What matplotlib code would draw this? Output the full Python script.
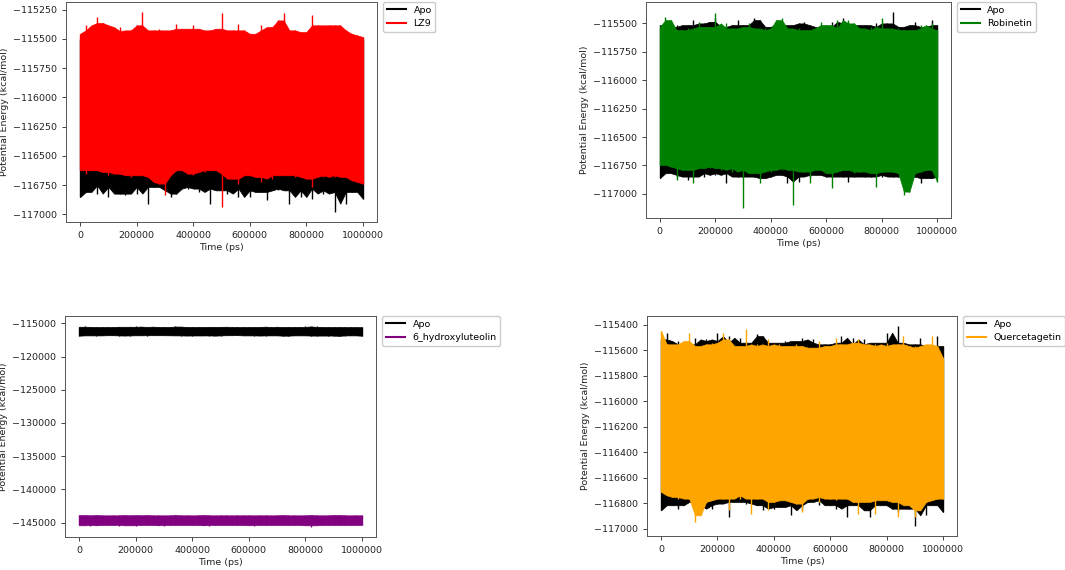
import numpy as np
import matplotlib
matplotlib.use("Agg")
import matplotlib.pyplot as plt
from matplotlib.ticker import MultipleLocator

# time axis of the traces (ps), one sample every 20000 ps
time_ps = np.arange(0, 1000001, 20000)

# ---- panel 1: Apo vs LZ9 (upper / lower envelope of each trace, kcal/mol) ----
apo_hi_lz9 = [-115500, -115530, -115510, -115540, -115520, -115510, -115530, -115500, -115470, -115520,
              -115490, -115530, -115510, -115540, -115520, -115530, -115500, -115520, -115510, -115540,
              -115520, -115500, -115530, -115510, -115520, -115540, -115510, -115500, -115530, -115520,
              -115510, -115500, -115530, -115520, -115540, -115510, -115520, -115530, -115500, -115520,
              -115510, -115530, -115520, -115500, -115540, -115510, -115490, -115480, -115520, -115490, -115500]
apo_lo_lz9 = [-116852, -116809, -116752, -116823, -116752, -116852, -116766, -116823, -116837, -116737,
              -116823, -116766, -116909, -116766, -116752, -116795, -116852, -116823, -116766, -116780,
              -116766, -116809, -116780, -116909, -116766, -116795, -116823, -116752, -116852, -116780,
              -116852, -116795, -116809, -116880, -116780, -116795, -116766, -116909, -116795, -116852,
              -116780, -116866, -116766, -116823, -116795, -116980, -116809, -116909, -116809, -116795, -116866]
lz9_hi = [-115456, -115384, -115427, -115313, -115364, -115384, -115433, -115399, -115442, -115427,
          -115384, -115270, -115470, -115427, -115413, -115442, -115427, -115370, -115413, -115422,
          -115384, -115413, -115442, -115427, -115413, -115279, -115442, -115427, -115370, -115427,
          -115456, -115456, -115384, -115427, -115399, -115342, -115279, -115427, -115427, -115442,
          -115442, -115299, -115384, -115413, -115384, -115384, -115384, -115427, -115456, -115470, -115484]
lz9_lo = [-116623, -116652, -116623, -116609, -116638, -116666, -116638, -116652, -116666, -116680,
          -116652, -116666, -116680, -116723, -116737, -116837, -116666, -116623, -116609, -116652,
          -116666, -116623, -116638, -116580, -116623, -116937, -116652, -116695, -116737, -116666,
          -116652, -116680, -116723, -116652, -116695, -116666, -116652, -116666, -116680, -116652,
          -116695, -116766, -116666, -116680, -116652, -116680, -116666, -116680, -116709, -116723, -116737]

# ---- panel 2: Apo vs Robinetin ----
apo_hi_rob = [-115515, -115530, -115544, -115515, -115530, -115515, -115471, -115515, -115500, -115486,
              -115456, -115544, -115530, -115515, -115471, -115515, -115530, -115456, -115471, -115559,
              -115530, -115515, -115515, -115559, -115515, -115500, -115486, -115515, -115559, -115530,
              -115544, -115486, -115530, -115456, -115500, -115530, -115515, -115515, -115544, -115500,
              -115530, -115500, -115398, -115530, -115530, -115515, -115486, -115544, -115530, -115471, -115515]
apo_lo_rob = [-116862, -116818, -116804, -116848, -116833, -116877, -116848, -116818, -116848, -116818,
              -116833, -116818, -116906, -116818, -116848, -116848, -116833, -116848, -116862, -116862,
              -116848, -116818, -116833, -116906, -116848, -116892, -116833, -116848, -116818, -116833,
              -116848, -116848, -116833, -116848, -116892, -116848, -116833, -116848, -116848, -116833,
              -116848, -116833, -116848, -116848, -116862, -116848, -116848, -116906, -116862, -116862, -116848]
rob_hi = [-115530, -115442, -115471, -115559, -115559, -115544, -115574, -115486, -115530, -115530,
          -115412, -115574, -115500, -115544, -115559, -115530, -115500, -115544, -115574, -115544,
          -115559, -115471, -115456, -115544, -115559, -115544, -115574, -115559, -115544, -115486,
          -115515, -115559, -115471, -115544, -115471, -115500, -115544, -115559, -115530, -115559,
          -115456, -115544, -115559, -115544, -115559, -115574, -115559, -115515, -115544, -115500, -115559]
rob_lo = [-116745, -116731, -116760, -116877, -116774, -116789, -116906, -116774, -116745, -116774,
          -116760, -116789, -116774, -116804, -116760, -117126, -116789, -116818, -116906, -116789,
          -116804, -116760, -116789, -116774, -117097, -116789, -116804, -116906, -116774, -116789,
          -116818, -116950, -116804, -116789, -116774, -116818, -116804, -116789, -116818, -116936,
          -116804, -116789, -116804, -116818, -117009, -116980, -116818, -116804, -116789, -116789, -116892]

# ---- panel 4: Apo vs Quercetagetin ----
apo_hi_que = [-115513, -115460, -115565, -115526, -115552, -115552, -115500, -115565, -115513, -115526,
              -115460, -115539, -115487, -115552, -115500, -115539, -115539, -115473, -115487, -115539,
              -115565, -115539, -115526, -115552, -115526, -115500, -115539, -115513, -115565, -115552,
              -115552, -115539, -115487, -115552, -115500, -115552, -115513, -115552, -115539, -115539,
              -115460, -115539, -115408, -115539, -115565, -115552, -115500, -115565, -115565, -115487, -115565]
apo_lo_que = [-116856, -116790, -116816, -116843, -116816, -116777, -116790, -116869, -116816, -116843,
              -116803, -116790, -116908, -116790, -116777, -116803, -116790, -116816, -116856, -116790,
              -116843, -116830, -116803, -116895, -116816, -116856, -116790, -116777, -116816, -116764,
              -116816, -116843, -116803, -116908, -116816, -116790, -116856, -116908, -116816, -116803,
              -116816, -116843, -116869, -116816, -116843, -116979, -116816, -116895, -116816, -116816, -116869]
que_hi = [-115447, -115552, -115578, -115552, -115526, -115460, -115565, -115578, -115552, -115539,
          -115565, -115460, -115513, -115578, -115565, -115434, -115565, -115552, -115565, -115513,
          -115578, -115552, -115565, -115578, -115552, -115565, -115578, -115591, -115526, -115578,
          -115565, -115500, -115552, -115565, -115539, -115513, -115552, -115578, -115552, -115565,
          -115539, -115565, -115552, -115487, -115578, -115565, -115578, -115552, -115487, -115565, -115657]
que_lo = [-116711, -116738, -116751, -116764, -116738, -116764, -116948, -116895, -116790, -116777,
          -116764, -116764, -116856, -116738, -116764, -116738, -116882, -116764, -116738, -116856,
          -116790, -116777, -116764, -116790, -116803, -116869, -116764, -116738, -116790, -116751,
          -116764, -116777, -116738, -116764, -116790, -116882, -116790, -116764, -116882, -116777,
          -116751, -116790, -116908, -116790, -116816, -116908, -116856, -116790, -116777, -116764, -116764]

# ---- panel 3: Apo vs 6_hydroxyluteolin (Apo trace same as panel 4) ----
hyd_hi = [-143850, -143950, -143800, -143900, -143850, -143950, -143900, -143800, -143900, -143850,
          -143950, -143800, -143900, -143850, -143900, -143950, -143850, -143900, -143800, -143900,
          -143950, -143850, -143900, -143850, -143950, -143900, -143850, -143950, -143900, -143800,
          -143900, -143950, -143850, -143900, -143950, -143850, -143900, -143800, -143900, -143950,
          -143850, -143900, -143850, -143950, -143900, -143850, -143800, -143900, -143950, -143850, -143900]
hyd_lo = [-145400, -145300, -145450, -145350, -145400, -145300, -145350, -145450, -145350, -145400,
          -145500, -145350, -145300, -145400, -145350, -145450, -145350, -145300, -145400, -145350,
          -145300, -145400, -145350, -145450, -145300, -145350, -145400, -145300, -145350, -145400,
          -145350, -145450, -145350, -145300, -145400, -145350, -145300, -145400, -145350, -145300,
          -145400, -145650, -145350, -145400, -145300, -145350, -145400, -145300, -145350, -145400, -145350]

plt.rcParams['font.family'] = ['DejaVu Sans']
plt.rcParams['font.size'] = 6.8

fig = plt.figure(figsize=(10.65, 5.7), dpi=100)

W, H = 1065.0, 570.0
def box(left, top, right, bottom):
    return [left / W, 1 - bottom / H, (right - left) / W, (bottom - top) / H]


def core(v):
    # 3-sample running median: the dense body of the trace without its spikes
    p = np.pad(np.asarray(v, float), 1, mode='edge')
    return np.median(np.stack([p[:-2], p[1:-1], p[2:]]), axis=0)


def draw_trace(ax, hi, lo, col, z):
    ax.fill_between(time_ps, core(lo), core(hi), color=col, lw=0.5, zorder=z)
    ax.vlines(time_ps, lo, hi, color=col, lw=1.0, zorder=z + 0.5)


panels = [
    (box(66, 2, 377, 222), apo_hi_lz9, apo_lo_lz9, lz9_hi, lz9_lo, 'LZ9', 'red', 250),
    (box(646, 2, 951, 218), apo_hi_rob, apo_lo_rob, rob_hi, rob_lo, 'Robinetin', 'green', 250),
    (box(65, 316, 376, 537), apo_hi_que, apo_lo_que, hyd_hi, hyd_lo, '6_hydroxyluteolin', 'purple', 5000),
    (box(647, 316, 957, 536), apo_hi_que, apo_lo_que, que_hi, que_lo, 'Quercetagetin', 'orange', 200),
]

for rect, a_hi, a_lo, l_hi, l_lo, name, col, ystep in panels:
    ax = fig.add_axes(rect)
    # Apo first, ligand on top
    draw_trace(ax, a_hi, a_lo, 'black', 2)
    draw_trace(ax, l_hi, l_lo, col, 3)
    ax.plot([], [], color='black', lw=1.5, label='Apo')
    ax.plot([], [], color=col, lw=1.5, label=name)

    ax.xaxis.set_major_locator(MultipleLocator(200000))
    ax.yaxis.set_major_locator(MultipleLocator(ystep))
    ax.ticklabel_format(style='plain', useOffset=False)
    ax.tick_params(length=3, width=0.6, colors='#222222', labelsize=6.8)
    for s in ax.spines.values():
        s.set_color('#555555')
        s.set_linewidth(0.7)
    ax.set_xlabel('Time (ps)', fontsize=6.8, labelpad=2, color='#222222')
    ax.set_ylabel('Potential Energy (kcal/mol)', fontsize=6.8, labelpad=3, color='#222222')
    ax.legend(loc='upper left', bbox_to_anchor=(1.02, 1.0), borderaxespad=0,
              fontsize=6.8, handlelength=2.0, framealpha=1.0, edgecolor='#cccccc')

fig.savefig('out.png', dpi=100)
